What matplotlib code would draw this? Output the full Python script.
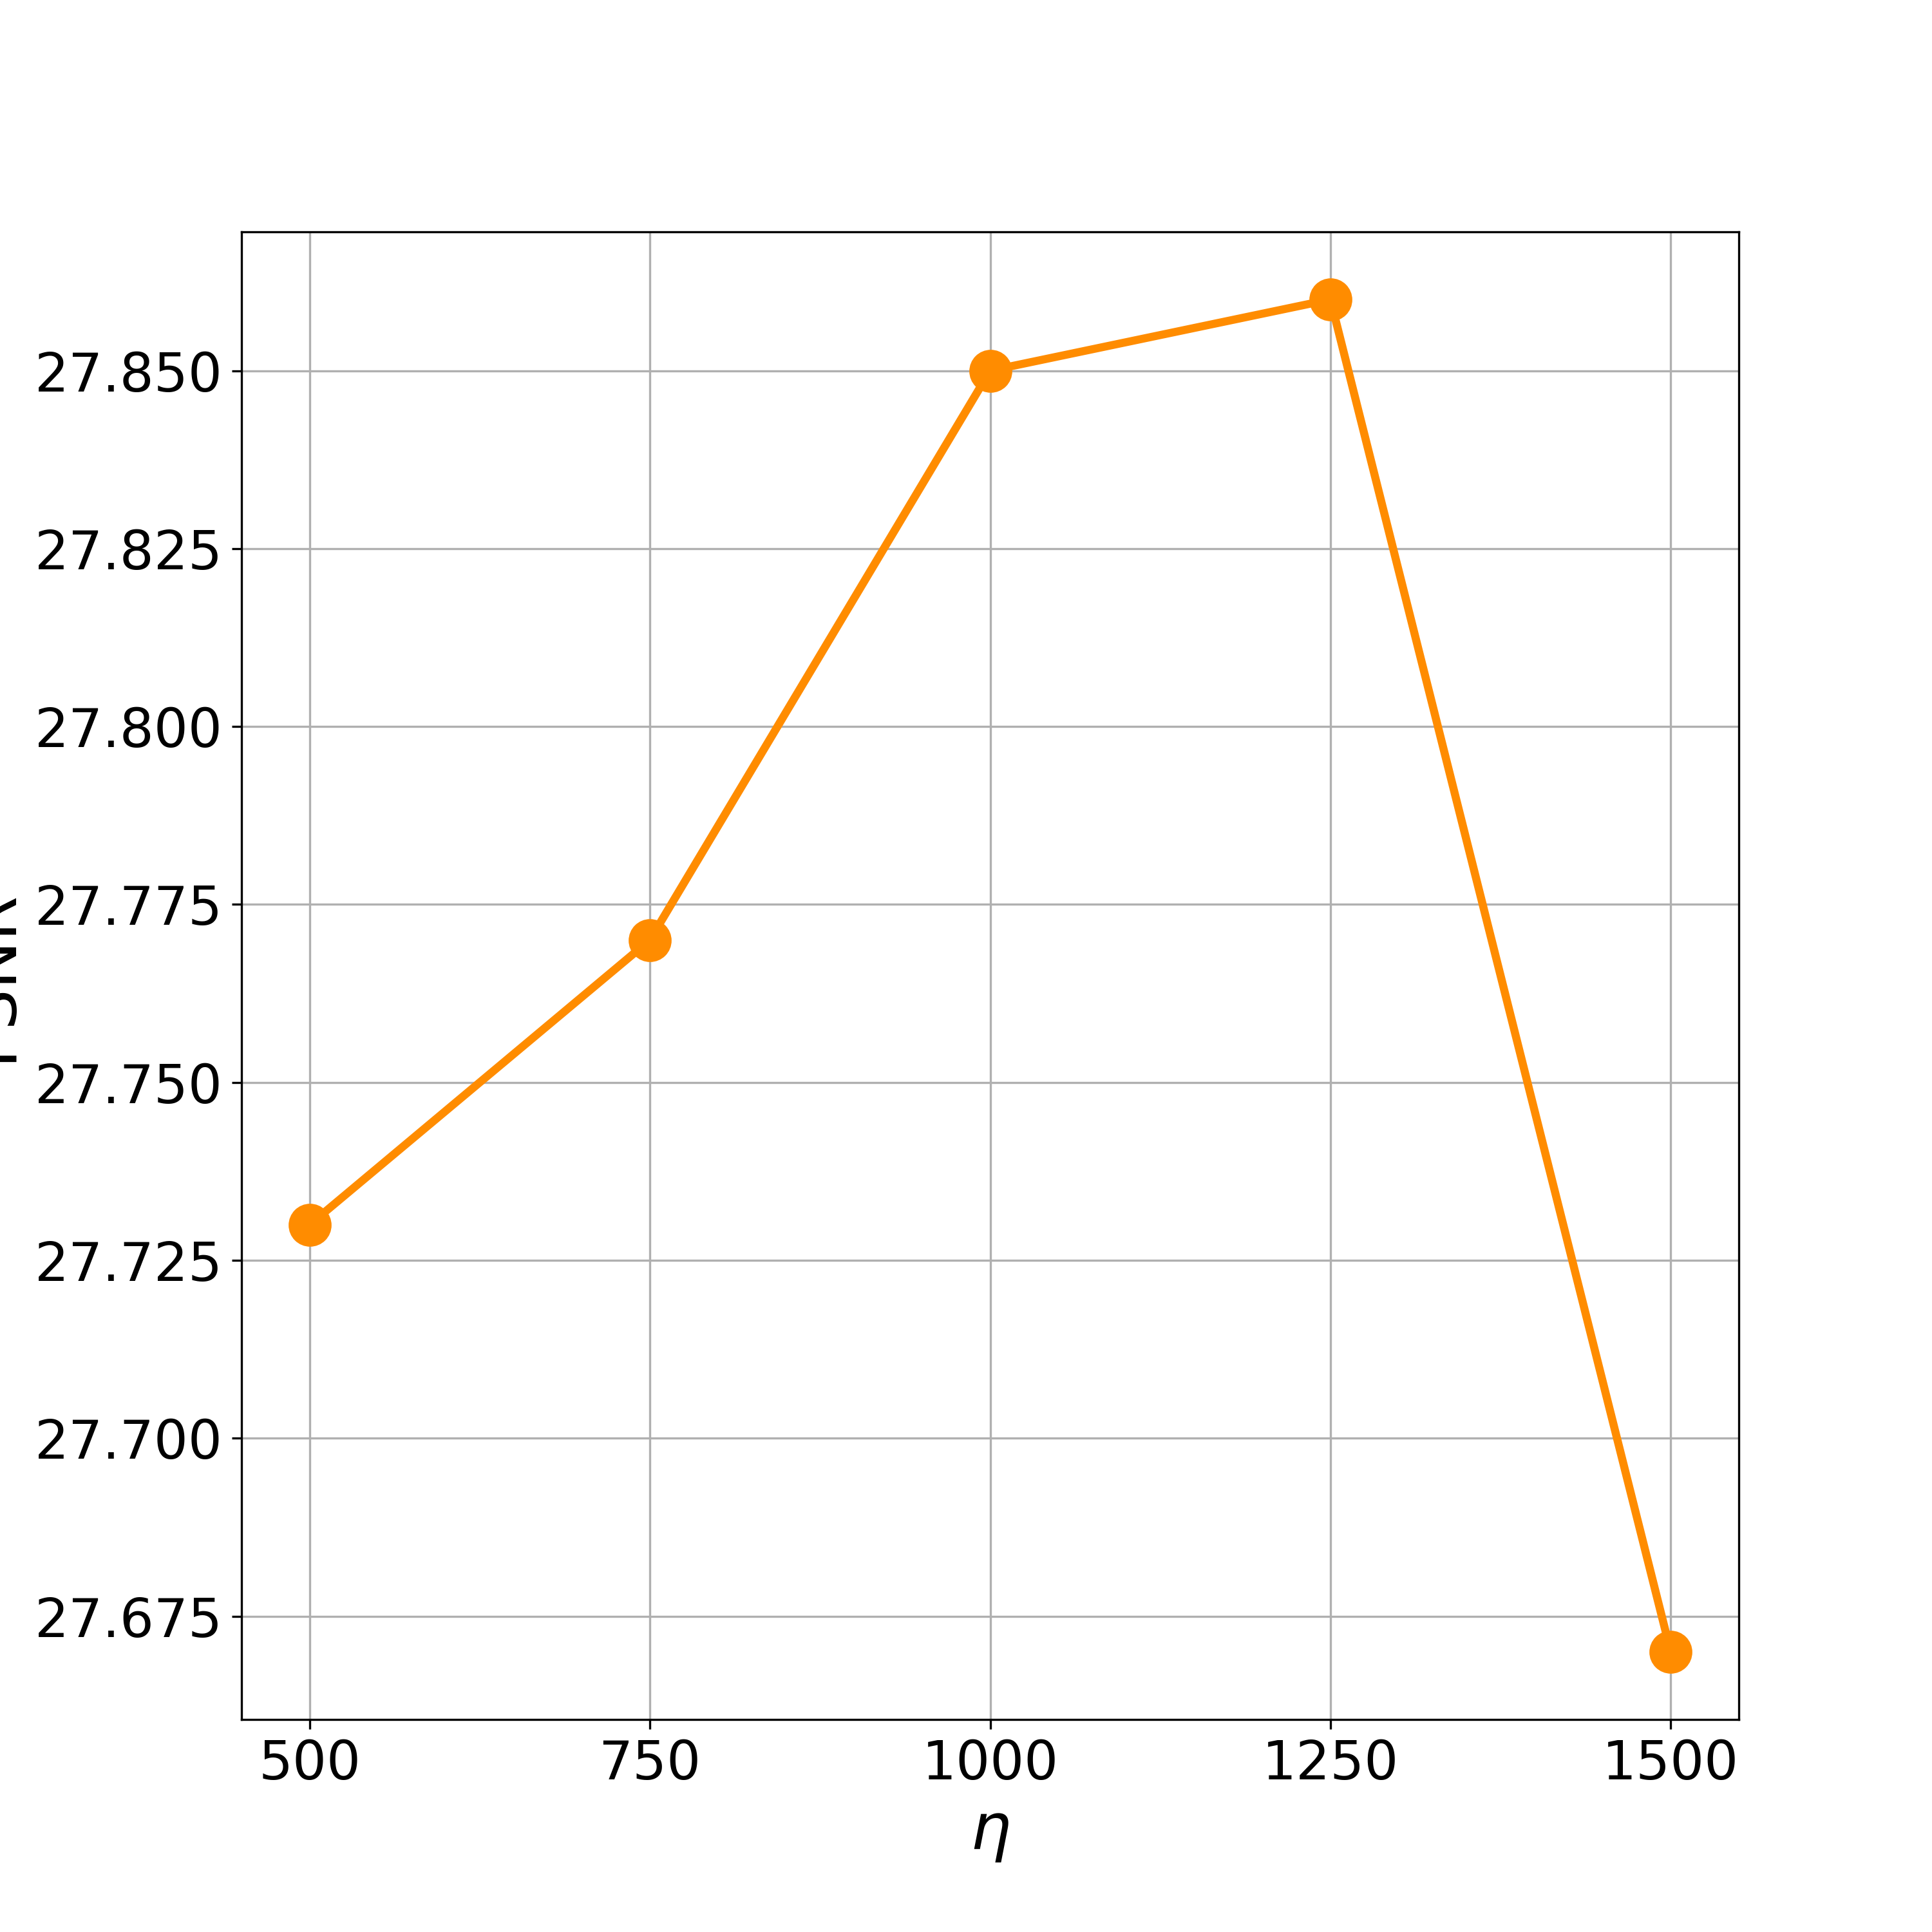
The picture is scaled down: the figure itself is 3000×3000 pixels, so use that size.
import matplotlib
matplotlib.use("Agg")
import matplotlib.pyplot as plt

eta = [500, 750, 1000, 1250, 1500]
psnr = [27.73, 27.77, 27.85, 27.86, 27.67]

fig, ax = plt.subplots(figsize=(10, 10), dpi=300)
ax.plot(eta, psnr, color="darkorange", marker="o", markersize=15, linewidth=3)
ax.set_xticks(eta)
ax.tick_params(labelsize=20)
ax.set_xlabel(r"$\eta$", fontsize=24)
ax.set_ylabel("PSNR", fontsize=24)
ax.grid(True)
fig.savefig("out.png", dpi=300)
